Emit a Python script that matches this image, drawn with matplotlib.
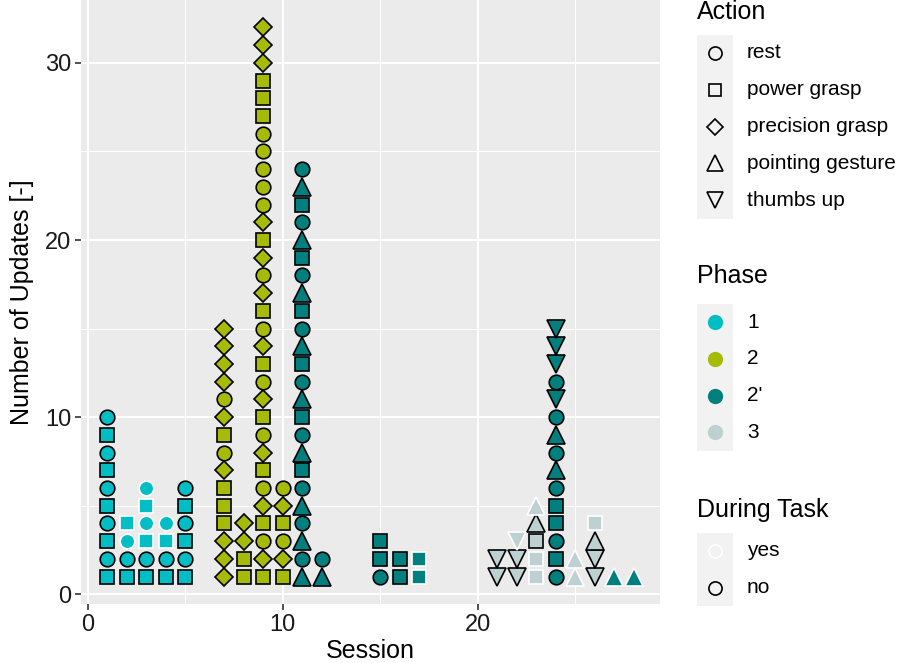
import matplotlib
matplotlib.use("Agg")
import matplotlib.pyplot as plt
from matplotlib.lines import Line2D
from matplotlib.patches import Rectangle

plt.rcParams["font.family"] = ["Liberation Sans", "DejaVu Sans"]

# one entry per session: phase, actions bottom-to-top, during-task flags (y/n)
sessions = [1, 2, 3, 4, 5, 7, 8, 9, 10, 11, 12, 15, 16, 17, 21, 22, 23, 24, 25, 26, 27, 28]
session_phase = ["1", "1", "1", "1", "1", "2", "2", "2", "2", "2'", "2'", "2'", "2'", "2'",
                 "3", "3", "3", "2'", "3", "3", "2'", "2'"]
# r=rest, p=power grasp, c=precision grasp, g=pointing gesture, t=thumbs up
session_actions = [
    "prprprprpr",
    "prrp",
    "prprpr",
    "prpr",
    "prprpr",
    "cccpppcrpcrcccc",
    "ppcc",
    "pcrpcrpcrpcrpcrpcrcpcrrrrrpppccc",
    "pcrpcr",
    "grgrgrpgrpgrpgrpgrpgrpgr",
    "gr",
    "rpp",
    "pp",
    "pp",
    "tt",
    "ttt",
    "pppgg",
    "rprpprgrgrtrttt",
    "gg",
    "ttgp",
    "g",
    "g",
]
session_task = [
    "nnnnnnnnnn",
    "nnyy",
    "nnyyyy",
    "nnyy",
    "nnnnnn",
    "nnnnnnnnnnnnnnn",
    "nnnn",
    "nnnnnnnnnnnnnnnnnnnnnnnnnnnnnnnn",
    "nnnnnn",
    "nnnnnnnnnnnnnnnnnnnnnnnn",
    "nn",
    "nnn",
    "nn",
    "yy",
    "nn",
    "nny",
    "yynny",
    "nnnnnnnnnnnnnnn",
    "yy",
    "nnny",
    "y",
    "y",
]

action_names = ["rest", "power grasp", "precision grasp", "pointing gesture", "thumbs up"]
action_codes = ["r", "p", "c", "g", "t"]
phase_names = ["1", "2", "2'", "3"]
task_names = ["yes", "no"]

action_marker = {"r": "o", "p": "s", "c": "D", "g": "^", "t": "v"}
action_size = {"r": 10.5, "p": 9.5, "c": 9.6, "g": 13.5, "t": 13.5}
phase_color = {"1": "#00BEC4", "2": "#A6BA08", "2'": "#007F7F", "3": "#BED1D2"}
task_edge = {"y": "white", "n": "black"}

W, H = 898, 663
fig = plt.figure(figsize=(W / 100, H / 100), dpi=100)
ax = fig.add_axes([81 / W, 59 / H, 579 / W, 604 / H])
ax.set_facecolor("#EBEBEB")

for s, ph, acts, tasks in zip(sessions, session_phase, session_actions, session_task):
    for i, (a, t) in enumerate(zip(acts, tasks)):
        ax.plot(s, i + 1, marker=action_marker[a], markersize=action_size[a],
                markerfacecolor=phase_color[ph], markeredgecolor=task_edge[t],
                markeredgewidth=1.2, linestyle="none", zorder=3)

ax.set_xlim(-0.35, 29.35)
ax.set_ylim(-0.55, 33.55)
ax.set_xticks([0, 10, 20])
ax.set_yticks([0, 10, 20, 30])
ax.set_xticks([5, 15, 25], minor=True)
ax.set_yticks([5, 15, 25], minor=True)
ax.grid(which="major", color="white", linewidth=1.5, zorder=0)
ax.grid(which="minor", color="white", linewidth=0.75, zorder=0)
ax.set_axisbelow(True)
for sp in ax.spines.values():
    sp.set_visible(False)
ax.tick_params(which="major", length=4, width=1.2, color="#333333",
               labelsize=17, labelcolor="#1A1A1A", pad=3)
ax.tick_params(which="minor", length=0)
ax.set_xlabel("Session", fontsize=18, labelpad=2)
ax.set_ylabel("Number of Updates [-]", fontsize=18, labelpad=8)


# legends drawn in pixel coordinates of the figure
def px(x, y):
    return x / W, 1 - y / H


def legend_block(title, title_y, first_y, labels, draw_key):
    fig.text(*px(697, title_y), title, fontsize=18, va="center", ha="left")
    step = 36.8
    top = first_y - step / 2
    fig.add_artist(Rectangle(px(697, top + step * len(labels)), 36 / W, step * len(labels) / H,
                             transform=fig.transFigure, facecolor="#F2F2F2",
                             edgecolor="none"))
    for k, lab in enumerate(labels):
        y = first_y + k * step
        draw_key(k, y)
        fig.text(*px(747, y), lab, fontsize=15, va="center", ha="left")


def action_key(k, y):
    a = action_codes[k]
    fig.add_artist(Line2D([715 / W], [1 - y / H], transform=fig.transFigure,
                          marker=action_marker[a], markersize=action_size[a] * 0.9,
                          markerfacecolor="none", markeredgecolor="black",
                          markeredgewidth=1.2, linestyle="none"))


def phase_key(k, y):
    fig.add_artist(Line2D([715 / W], [1 - y / H], transform=fig.transFigure,
                          marker="o", markersize=11, markerfacecolor=phase_color[phase_names[k]],
                          markeredgecolor="none", linestyle="none"))


def task_key(k, y):
    edge = "white" if task_names[k] == "yes" else "black"
    fig.add_artist(Line2D([715 / W], [1 - y / H], transform=fig.transFigure,
                          marker="o", markersize=9.5, markerfacecolor="none",
                          markeredgecolor=edge, markeredgewidth=1.2, linestyle="none"))


legend_block("Action", 12, 53, action_names, action_key)
legend_block("Phase", 276, 322, phase_names, phase_key)
legend_block("During Task", 510, 551, task_names, task_key)

fig.savefig("out.png", dpi=100)
